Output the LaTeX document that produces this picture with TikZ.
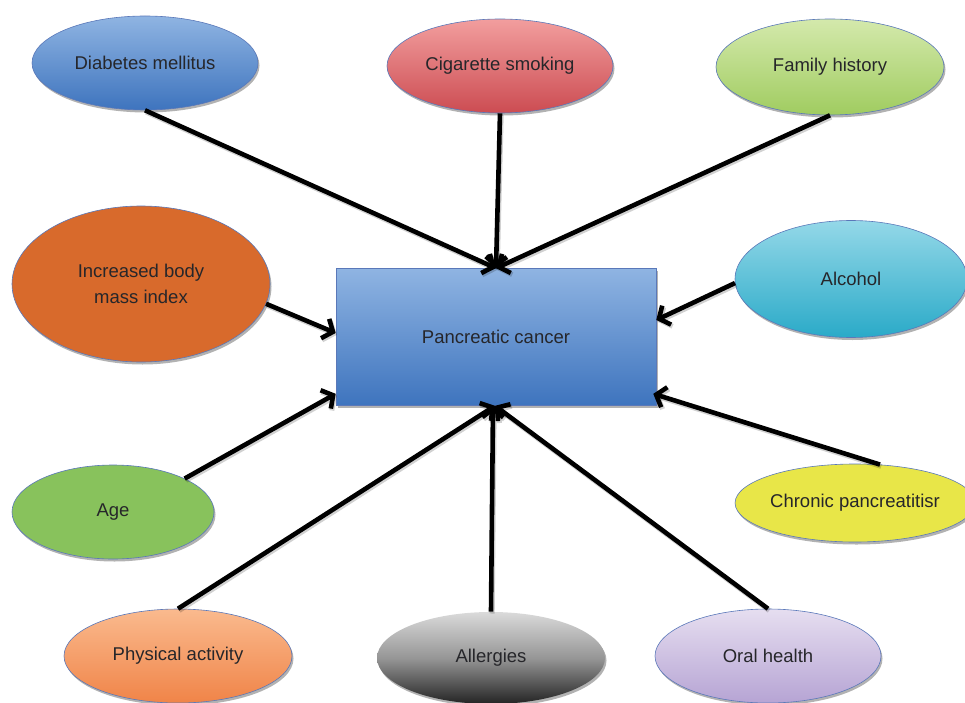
\documentclass[tikz,border=0pt]{standalone}
\usepackage{fontspec}
\setmainfont{Liberation Sans}
\usetikzlibrary{shapes.geometric,shadows,arrows.meta}
\definecolor{outl}{RGB}{90,120,185}
\definecolor{txt}{RGB}{38,38,42}
\definecolor{pcTop}{RGB}{143,180,226}
\definecolor{pcBot}{RGB}{62,116,190}
\definecolor{csTop}{RGB}{242,158,158}
\definecolor{csBot}{RGB}{204,76,82}
\definecolor{fhTop}{RGB}{212,233,172}
\definecolor{fhBot}{RGB}{160,204,96}
\definecolor{bmiC}{RGB}{216,106,44}
\definecolor{alTop}{RGB}{148,216,232}
\definecolor{alBot}{RGB}{42,170,200}
\definecolor{ageC}{RGB}{136,194,92}
\definecolor{cpC}{RGB}{232,230,72}
\definecolor{paTop}{RGB}{250,186,142}
\definecolor{paBot}{RGB}{240,132,72}
\definecolor{algTop}{RGB}{218,218,218}
\definecolor{algMid}{RGB}{150,150,150}
\definecolor{algBot}{RGB}{35,35,35}
\definecolor{ohTop}{RGB}{230,222,240}
\definecolor{ohBot}{RGB}{182,164,212}
\begin{document}
\begin{tikzpicture}[x=1pt,y=-1pt,
  factor/.style={ellipse, draw=outl, line width=0.6pt, text=txt,
    font=\fontsize{18.5}{26}\selectfont, align=center, inner sep=0pt,
    drop shadow={shadow xshift=1.5pt, shadow yshift=-2.5pt, opacity=0.3, fill=black}},
  mainbox/.style={rectangle, draw=outl, line width=0.6pt, text=txt,
    font=\fontsize{18.5}{26}\selectfont, inner sep=0pt,
    minimum width=320pt, minimum height=137pt,
    top color=pcTop, bottom color=pcBot,
    drop shadow={shadow xshift=1.5pt, shadow yshift=-2.5pt, opacity=0.3, fill=black}},
  link/.style={line width=4.6pt, black,
    -{Straight Barb[length=8.5pt,width=21pt]},
    preaction={draw=black, opacity=0.18, line width=5pt,
      transform canvas={shift={(1.2pt,-1.8pt)}}}}]
\useasboundingbox (0,0) rectangle (965,703);

\node[mainbox] (pc) at (496,337) {Pancreatic cancer};

\node[factor, minimum width=226pt, minimum height=94pt, top color=pcTop, bottom color=pcBot] (dm) at (145,63) {Diabetes mellitus};
\node[factor, minimum width=226pt, minimum height=94pt, top color=csTop, bottom color=csBot] (cs) at (500,66) {Cigarette smoking};
\node[factor, minimum width=228pt, minimum height=96pt, top color=fhTop, bottom color=fhBot] (fh) at (830,67) {Family history};
\node[factor, minimum width=258pt, minimum height=156pt, fill=bmiC] (bmi) at (141,284) {Increased body\\mass index};
\node[factor, minimum width=232pt, minimum height=117pt, top color=alTop, bottom color=alBot] (al) at (851,279) {Alcohol};
\node[factor, minimum width=202pt, minimum height=94pt, fill=ageC] (age) at (113,512) {Age};
\node[factor, minimum width=222pt, minimum height=78pt, fill=cpC] (cp) at (855,503) {Chronic pancreatitisr};
\node[factor, minimum width=228pt, minimum height=94pt, top color=paTop, bottom color=paBot] (pa) at (178,656) {Physical activity};
\node[factor, draw=none, minimum width=228pt, minimum height=92pt, top color=algTop, bottom color=algBot, middle color=algMid] (alg) at (491,658) {Allergies};
\node[factor, minimum width=226pt, minimum height=94pt, top color=ohTop, bottom color=ohBot] (oh) at (768,656) {Oral health};

\draw[link] (dm.south) -- (pc.north);
\draw[link] (cs.south) -- (pc.north);
\draw[link] (fh.south) -- (pc.north);
\draw[link] (bmi.-9) -- ([yshift=4pt]pc.west);
\draw[link] (al.182) -- ([yshift=17pt]pc.east);
\draw[link] (age.25) -- ([yshift=12pt]pc.south west);
\draw[link] (cp.57) -- ([shift={(-3pt,12pt)}]pc.south east);
\draw[link] (pa.north) -- ([xshift=-1pt]pc.south);
\draw[link] (alg.north) -- ([xshift=-3pt]pc.south);
\draw[link] (oh.north) -- ([xshift=-1pt]pc.south);
\end{tikzpicture}
\end{document}
